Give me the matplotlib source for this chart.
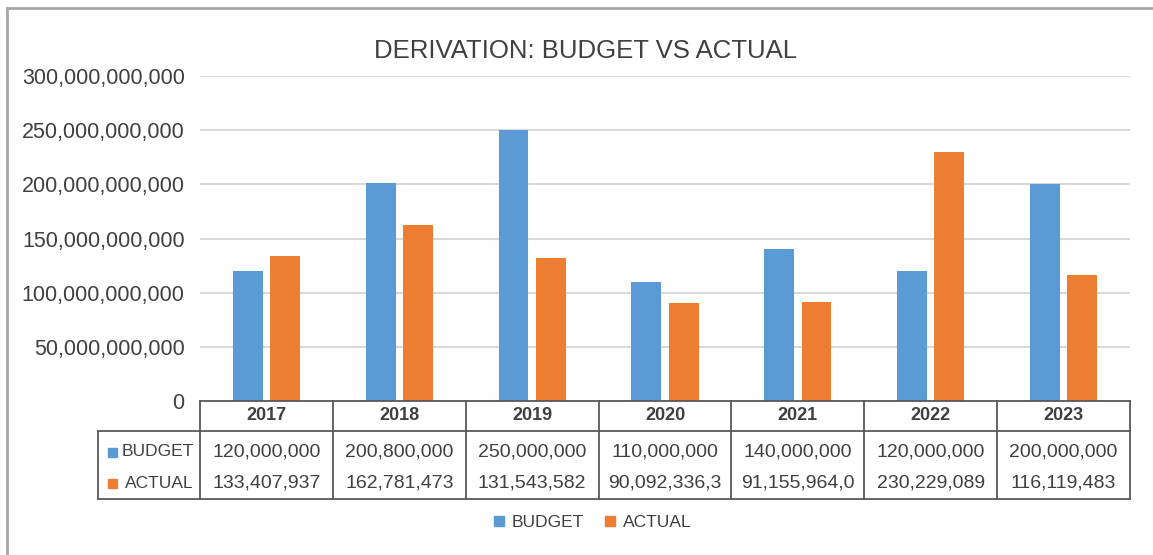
import matplotlib
matplotlib.use("Agg")
import matplotlib.pyplot as plt
from matplotlib import font_manager
from matplotlib.lines import Line2D
from matplotlib.patches import Rectangle
from matplotlib.transforms import blended_transform_factory
from matplotlib.ticker import FuncFormatter

# ---- data -------------------------------------------------------------
years = ["2017", "2018", "2019", "2020", "2021", "2022", "2023"]
budget = [120_000_000_000, 200_800_000_000, 250_000_000_000, 110_000_000_000,
          140_000_000_000, 120_000_000_000, 200_000_000_000]
actual = [133_407_937_000, 162_781_473_000, 131_543_582_000, 90_092_336_300,
          91_155_964_000, 230_229_089_000, 116_119_483_000]
series_names = ["BUDGET", "ACTUAL"]
y_ticks = [0, 50_000_000_000, 100_000_000_000, 150_000_000_000,
           200_000_000_000, 250_000_000_000, 300_000_000_000]

BLUE = "#5B9BD5"
ORANGE = "#ED7D31"
TEXT = "#404040"
GRID = "#D9D9D9"
TABLE_LINE = "#595959"


def pick_font(names):
    for n in names:
        try:
            font_manager.findfont(font_manager.FontProperties(family=n),
                                  fallback_to_default=False)
            return n
        except Exception:
            pass
    return None


BASE = pick_font(["Liberation Sans", "Arial"]) or "DejaVu Sans"
NARROW = pick_font(["Liberation Sans Narrow", "Arial Narrow"])
tick_font = NARROW or BASE
tick_size = 19 if NARROW else 15.5

W, H = 1153, 555
fig = plt.figure(figsize=(W / 100, H / 100), dpi=100)
fig.patch.set_facecolor("white")


def fx(px):
    return px / W


def fy(py):
    return 1 - py / H


# plot area: x 200..1130 px, y 76..401 px
ax = fig.add_axes([fx(200), fy(401), fx(1130) - fx(200), fy(76) - fy(401)])
n = len(years)
xs = list(range(n))
bw = 0.225
off = 0.14
ax.bar([x - off for x in xs], budget, width=bw, color=BLUE, zorder=3)
ax.bar([x + off for x in xs], actual, width=bw, color=ORANGE, zorder=3)

ax.set_xlim(-0.5, n - 0.5)
ax.set_ylim(0, 300_000_000_000)
ax.set_yticks(y_ticks)
ax.yaxis.set_major_formatter(FuncFormatter(lambda v, p: f"{int(v):,}"))
ax.tick_params(axis="y", length=0, pad=11, labelsize=tick_size,
               labelcolor=TEXT)
for lab in ax.get_yticklabels():
    lab.set_fontfamily(tick_font)
ax.set_xticks([])
ax.grid(axis="y", color=GRID, linewidth=1.5, zorder=0)
for s in ax.spines.values():
    s.set_visible(False)

# ---- title ------------------------------------------------------------
fig.text(fx(586), fy(51), "DERIVATION: BUDGET VS ACTUAL", ha="center",
         va="center", fontsize=18.5, color=TEXT, fontfamily=BASE)

# ---- data table -------------------------------------------------------
tr = blended_transform_factory(ax.transData, fig.transFigure)
lw = 1.3
y_top, y_mid, y_bot = fy(401), fy(431), fy(499)
row_y = [fy(452), fy(483)]


def cell_text(v):
    return f"{v:,}"[:12].rstrip(",")


# horizontal lines of the value grid
for yy in (y_top, y_mid, y_bot):
    fig.add_artist(Line2D([-0.5, n - 0.5], [yy, yy], transform=tr,
                          color=TABLE_LINE, lw=lw))
# vertical column separators
for b in range(n + 1):
    fig.add_artist(Line2D([b - 0.5, b - 0.5], [y_top, y_bot], transform=tr,
                          color=TABLE_LINE, lw=lw))
# series-name block on the left
fig.add_artist(Line2D([fx(98), fx(200)], [y_mid, y_mid],
                      transform=fig.transFigure, color=TABLE_LINE, lw=lw))
fig.add_artist(Line2D([fx(98), fx(200)], [y_bot, y_bot],
                      transform=fig.transFigure, color=TABLE_LINE, lw=lw))
fig.add_artist(Line2D([fx(98), fx(98)], [y_mid, y_bot],
                      transform=fig.transFigure, color=TABLE_LINE, lw=lw))

for i, yr in enumerate(years):
    fig.text(i, fy(416), yr, transform=tr, ha="center", va="center",
             fontsize=13, fontweight="bold", color=TEXT, fontfamily=BASE)
    fig.text(i, row_y[0], cell_text(budget[i]), transform=tr, ha="center",
             va="center", fontsize=14, color=TEXT, fontfamily=BASE)
    fig.text(i, row_y[1], cell_text(actual[i]), transform=tr, ha="center",
             va="center", fontsize=14, color=TEXT, fontfamily=BASE)

for name, col, yy in zip(series_names, [BLUE, ORANGE], row_y):
    sq = 9
    fig.add_artist(Rectangle((fx(108), yy - (sq / 2) / H), sq / W, sq / H,
                             transform=fig.transFigure, color=col))
    fig.text(fx(194), yy, name, ha="right", va="center", fontsize=12.5,
             color=TEXT, fontfamily=BASE)

# ---- legend -----------------------------------------------------------
handles = [Line2D([], [], marker="s", ls="", markersize=6.5, color=c)
           for c in (BLUE, ORANGE)]
fig.legend(handles, series_names, loc="center", bbox_to_anchor=(fx(593), fy(522)),
           ncol=2, frameon=False, handlelength=0.5, handletextpad=0.45,
           columnspacing=1.3, prop={"family": BASE, "size": 12.5},
           labelcolor=TEXT)

# ---- outer border (left and top edges) -------------------------------
fig.add_artist(Line2D([fx(6.5), fx(6.5)], [fy(8), 0], transform=fig.transFigure,
                      color="#A6A6A6", lw=2))
fig.add_artist(Line2D([fx(6.5), 1], [fy(8), fy(8)], transform=fig.transFigure,
                      color="#A6A6A6", lw=2))

fig.savefig("out.png", dpi=100, facecolor="white")
